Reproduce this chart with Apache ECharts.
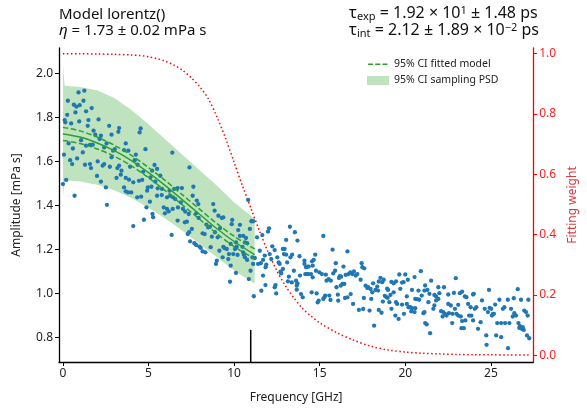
<!DOCTYPE html>
<html><head><meta charset="utf-8">
<script src="https://cdn.jsdelivr.net/npm/echarts@6/dist/echarts.min.js"></script>
<style>html,body{margin:0;padding:0;background:#fff}#c{width:587px;height:413px}</style>
</head><body><div id="c"></div>
<script>
const xTicks=[0,5,10,15,20,25];
const yTicks=[0.8,1.0,1.2,1.4,1.6,1.8,2.0];
const wTicks=[0,0.2,0.4,0.6,0.8,1.0];

const psdPoints=[
[1.25,1.923],[0.91,1.915],[0.29,1.877],[0.64,1.859],[0.79,1.850],[0.98,1.857],[1.20,1.877],[0.73,1.824],[0.25,1.813],[0.10,1.789],
[0.14,1.779],[0.48,1.774],[0.95,1.783],[1.35,1.829],[1.68,1.844],[1.49,1.789],[2.08,1.792],[1.45,1.763],[2.70,1.763],[3.28,1.753],
[3.24,1.736],[4.54,1.751],[4.48,1.733],[1.79,1.741],[1.89,1.723],[2.22,1.718],[2.14,1.703],[2.84,1.723],[1.06,1.698],[0.33,1.683],
[0.58,1.660],[0.06,1.632],[1.16,1.642],[1.35,1.673],[1.58,1.676],[1.74,1.677],[2.55,1.683],[2.41,1.665],[3.03,1.657],[2.93,1.650],
[3.67,1.683],[3.57,1.653],[3.82,1.650],[4.26,1.632],[4.82,1.657],[0.42,1.607],[0.54,1.589],[0.83,1.615],[1.29,1.586],[1.58,1.589],
[1.64,1.571],[2.03,1.601],[2.32,1.582],[2.41,1.589],[2.74,1.577],[2.84,1.620],[3.18,1.571],[3.28,1.582],[3.42,1.559],[3.92,1.577],
[4.19,1.607],[4.36,1.586],[3.38,1.541],[3.13,1.526],[1.99,1.535],[2.22,1.509],[2.51,1.483],[0.19,1.517],[0.0,1.498],[0.68,1.445],
[2.57,1.404],[4.11,1.307],[3.67,1.526],[3.86,1.518],[4.11,1.506],[4.44,1.513],[4.69,1.554],[5.35,1.585],[5.50,1.567],[5.21,1.559],
[5.11,1.529],[5.40,1.509],[5.69,1.536],[4.96,1.483],[5.17,1.486],[4.63,1.517],[3.57,1.483],[3.67,1.465],[3.80,1.460],[3.99,1.460],
[4.34,1.438],[4.57,1.441],[4.92,1.468],[5.54,1.479],[5.79,1.476],[5.50,1.445],[5.08,1.418],[4.88,1.392],[5.23,1.362],[5.27,1.347],
[4.73,1.336],[5.77,1.448],[6.08,1.438],[6.23,1.468],[6.50,1.476],[6.70,1.480],[6.95,1.480],[6.27,1.445],[6.43,1.438],[6.56,1.430],
[5.89,1.392],[6.08,1.385],[5.96,1.365],[6.18,1.374],[6.41,1.385],[6.72,1.392],[6.89,1.415],[7.01,1.385],[7.14,1.373],[7.35,1.362],
[7.62,1.486],[7.58,1.445],[7.82,1.423],[7.91,1.407],[7.78,1.365],[7.93,1.344],[6.70,1.332],[7.12,1.324],[7.24,1.327],[7.53,1.294],
[7.37,1.279],[7.29,1.271],[6.35,1.267],[7.43,1.238],[7.68,1.229],[7.78,1.221],[7.97,1.214],[8.05,1.208],[8.16,1.192],[8.32,1.188],
[8.63,1.211],[8.16,1.274],[8.28,1.271],[8.38,1.314],[8.49,1.301],[8.59,1.304],[8.78,1.407],[8.86,1.377],[8.88,1.279],[8.70,1.259],
[8.94,1.135],[6.39,1.641],[7.39,1.574],
[10.82,1.426],[9.08,1.354],[9.28,1.344],[9.37,1.347],[9.89,1.335],[9.86,1.316],[10.34,1.313],[10.24,1.289],[9.18,1.298],[9.04,1.256],
[9.37,1.213],[9.43,1.207],[9.80,1.226],[10.11,1.233],[10.34,1.262],[10.53,1.263],[10.69,1.253],[10.63,1.233],[10.76,1.229],[10.49,1.213],
[10.15,1.213],[10.05,1.203],[9.57,1.203],[9.70,1.180],[9.14,1.195],[9.95,1.180],[10.20,1.176],[10.53,1.188],[10.57,1.177],[10.92,1.294],
[11.01,1.329],[11.11,1.329],[11.34,1.256],[11.50,1.195],[11.07,1.165],[11.21,1.162],[10.63,1.165],[10.76,1.153],[9.33,1.165],[9.66,1.157],
[11.11,1.135],[10.96,1.104],[9.80,1.127],[10.11,1.094],[10.86,1.066],[9.76,1.054],[8.99,1.150],[11.15,0.988],[11.40,1.135],[11.56,1.138],
[12.04,1.297],[11.98,1.282],[11.65,1.266],[12.23,1.215],[12.08,1.180],[12.37,1.198],[11.79,1.173],[11.69,1.153],[11.88,1.132],[11.84,1.120],
[12.17,1.157],[11.69,1.082],[11.83,1.039],[11.59,1.013],[12.42,1.039],[12.37,1.029],[12.46,1.001],[12.52,1.165],[12.60,1.142],[12.66,1.135],
[12.75,1.092],[12.71,1.100],[12.85,1.112],[12.91,1.180],[12.95,1.203],[13.04,1.177],[12.85,1.203],[13.26,1.304],[13.55,1.279],[13.70,1.241],
[13.04,1.244],[13.39,1.177],[13.29,1.165],[13.10,1.142],[13.20,1.077],[13.14,1.056],[13.37,1.051],[13.49,1.104],[13.62,1.059],[13.70,1.047],
[13.82,1.170],[13.66,1.036],[13.66,1.018],[13.85,1.082],[13.91,0.998],[14.01,0.983],[14.11,1.150],[14.11,1.135],[14.20,1.120],[14.30,1.123],
[14.16,1.089],[14.24,1.089],[14.34,1.089],[14.36,1.123],[14.55,1.147],[14.65,1.153],[14.59,1.127],[14.74,1.177],[14.78,1.104],[14.49,1.089],
[14.59,1.074],[14.53,1.006],[14.82,1.001],[14.88,0.960],[14.94,0.968],[14.98,1.097],[15.13,1.089],[15.21,1.262],[15.36,1.086],[15.40,1.059],
[15.52,1.066],[15.65,1.059],[15.56,0.991],[15.21,0.976],[15.27,0.983],[15.32,0.991],[15.75,1.200],[15.79,1.092],[15.90,1.104],[15.94,1.138],
[15.98,1.029],[16.06,0.995],[15.63,0.971],[16.13,1.071],[16.17,1.079],[16.25,1.077],[16.39,1.123],[16.33,1.044],[16.44,1.044],[16.23,1.036],
[16.08,0.968],[16.52,1.085],[16.62,1.192],[16.68,1.089],[16.79,1.097],[16.91,1.089],[17.00,1.101],[17.10,1.082],[17.20,1.089],[16.48,0.980],
[16.62,0.983],[16.81,0.998],[16.95,0.953],[17.29,0.926],[17.39,1.063],[17.45,1.138],[17.49,1.120],[17.60,1.115],[17.54,0.930],[17.68,1.036],
[17.78,1.026],[17.83,1.029],[17.97,1.021],[18.07,1.006],[17.91,0.923],[18.01,0.976],[18.12,1.047],[18.18,0.854],[17.58,0.980],
[18.55,1.072],[18.74,1.063],[18.65,1.052],[18.45,1.055],[18.36,1.032],[18.26,1.017],[18.41,1.014],[18.94,1.023],[18.99,1.017],[19.19,1.053],
[19.32,1.047],[19.46,1.056],[19.65,1.087],[20.00,1.087],[19.81,1.050],[19.90,1.052],[20.15,1.063],[20.54,1.075],[20.91,1.102],[21.51,1.059],
[22.95,1.070],[19.71,1.022],[20.39,1.017],[20.77,1.014],[21.12,1.014],[21.29,1.017],[21.16,1.037],[21.93,1.029],[22.26,1.029],[18.80,0.990],
[18.90,0.984],[18.97,0.981],[19.13,0.994],[19.32,1.006],[19.46,0.961],[18.69,0.964],[19.07,0.961],[20.09,0.987],[20.58,0.976],[20.68,0.975],
[20.81,0.972],[20.96,0.991],[21.41,0.999],[21.70,0.994],[21.80,0.987],[21.99,1.002],[22.51,0.996],[22.84,1.003],[23.19,1.002],[23.32,1.009],
[23.48,0.987],[23.57,0.984],[24.00,0.999],[23.96,0.996],[24.89,1.017],[18.45,0.926],[18.61,0.913],[19.19,0.931],[19.52,0.953],[19.81,0.950],
[20.09,0.953],[19.42,0.900],[19.61,0.885],[19.92,0.908],[20.19,0.938],[20.29,0.938],[20.39,0.934],[20.58,0.934],[20.54,0.916],[20.35,0.919],
[21.06,0.911],[21.12,0.916],[21.16,0.866],[21.25,0.860],[21.45,0.820],[21.35,0.961],[21.64,0.931],[21.70,0.946],[21.80,0.969],[21.93,0.976],
[22.09,0.920],[22.22,0.916],[22.32,0.908],[22.41,0.900],[22.18,0.896],[22.55,0.911],[22.51,0.953],[22.66,0.946],[22.74,0.866],[22.76,0.908],
[22.90,0.931],[22.99,0.908],[23.09,0.900],[23.09,0.949],[23.24,0.896],[23.32,0.875],[23.28,0.843],[23.42,0.843],[23.51,0.878],[23.73,0.900],
[23.67,0.953],[23.82,0.938],[24.06,0.931],[24.15,0.938],[23.86,0.900],[23.96,0.878],[24.25,0.840],[24.40,0.870],[24.48,0.969],[24.64,0.931],
[24.73,0.810],[24.83,0.916],[24.93,0.935],[25.02,0.931],[25.06,0.900],[25.12,0.908],[25.18,0.908],[25.25,0.950],[25.31,0.810],[25.37,0.866],
[25.50,0.972],[25.60,0.866],[25.60,0.802],[25.70,0.931],[25.79,0.938],[25.83,0.866],[25.99,0.972],[26.08,0.866],[26.18,0.931],[26.28,0.896],
[26.37,0.911],[26.34,0.979],[26.47,0.900],[26.57,1.020],[26.61,0.866],[26.66,0.844],[26.76,0.972],[26.70,0.852],[26.80,0.840],[26.86,0.847],
[26.92,0.835],[26.95,0.923],[27.05,0.916],[27.15,0.900],[27.19,0.972],[27.11,0.810],[27.24,0.797],[24.75,0.767],[26.00,0.752]
];

const bandFreq =[0,   0.1,  1,    2,    3,    4,    5,    6,    7,    8,    9,    10,   11.2];
const bandUpper=[2.04,1.945,1.940,1.925,1.890,1.835,1.770,1.700,1.630,1.560,1.490,1.415,1.341];
const bandLower=[1.44,1.515,1.510,1.495,1.470,1.435,1.390,1.340,1.285,1.225,1.165,1.105,1.045];

const modelFreq =[0,    1,    2,    3,    4,    5,    6,    7,    8,    9,    10,   11.2];
const modelMid  =[1.726,1.712,1.685,1.650,1.605,1.550,1.490,1.425,1.360,1.295,1.237,1.177];
const modelHigh =[1.756,1.740,1.712,1.675,1.629,1.573,1.513,1.448,1.383,1.318,1.261,1.203];
const modelLow  =[1.696,1.683,1.658,1.625,1.581,1.527,1.467,1.402,1.337,1.272,1.214,1.158];

const weightFreq=[0,1,2,3,4,4.5,5,5.5,6,6.5,7,7.5,8,8.5,9,9.5,10,10.5,11,11.5,12,12.5,13,13.5,14,14.5,15,16,17,18,19,20,21,22,23,24,25,26,27.2];
const weightVal =[1.0,1.0,0.999,0.998,0.996,0.994,0.99,0.984,0.975,0.962,0.945,0.92,0.89,0.85,0.79,0.72,0.64,0.56,0.485,0.41,0.34,0.28,0.23,0.19,0.155,0.13,0.108,0.075,0.05,0.03,0.018,0.011,0.007,0.005,0.003,0.002,0.002,0.001,0.001];

const cutoffFreq=10.97, cutoffTop=0.835;
const xMin=-0.23, xMax=27.47, yMin=0.689, yMax=2.117, wMin=-0.022, wMax=1.019;

const FONT='"Noto Sans", sans-serif';
const zip=(a,b)=>a.map((v,i)=>[v,b[i]]);
const chart=echarts.init(document.getElementById('c'),null,{renderer:'canvas'});
const green='#2ca02c';
const bandColor='rgba(44,160,44,0.3)';
const dashIcon='path://M0,0h0.01v0.01h-0.01Z M22,10h0.01v0.01h-0.01Z M0,4h5.5v1.6h-5.5Z M8,4h5.5v1.6h-5.5Z M16,4h5.5v1.6h-5.5Z';

chart.setOption({
  animation:false,
  grid:{left:59,right:48,top:48,bottom:51,containLabel:false},
  xAxis:{type:'value',min:xMin,max:xMax,
    name:'Frequency [GHz]',nameLocation:'middle',nameGap:30,
    nameTextStyle:{fontFamily:FONT,fontSize:12,color:'#222'},
    axisLine:{onZero:false,lineStyle:{color:'#000',width:1.3}},
    axisTick:{length:4,lineStyle:{color:'#000',width:1},customValues:xTicks},
    axisLabel:{fontFamily:FONT,fontSize:12,color:'#222',margin:6,customValues:xTicks,formatter:v=>String(v)},
    splitLine:{show:false}},
  yAxis:[
    {type:'value',min:yMin,max:yMax,position:'left',
     name:'Amplitude [mPa s]',nameLocation:'middle',nameGap:36,
     nameTextStyle:{fontFamily:FONT,fontSize:12,color:'#222'},
     axisLine:{show:true,onZero:false,lineStyle:{color:'#000',width:1.3}},
     axisTick:{show:true,length:4,lineStyle:{color:'#000',width:1},customValues:yTicks},
     axisLabel:{fontFamily:FONT,fontSize:12,color:'#222',margin:6,customValues:yTicks,formatter:v=>v.toFixed(1)},
     splitLine:{show:false}},
    {type:'value',min:wMin,max:wMax,position:'right',
     name:'Fitting weight',nameLocation:'middle',nameGap:27,
     nameTextStyle:{fontFamily:FONT,fontSize:12,color:'#e0383c'},
     axisLine:{show:true,onZero:false,lineStyle:{color:'#ff0000',width:1.3}},
     axisTick:{show:true,length:4,lineStyle:{color:'#ff0000',width:1},customValues:wTicks},
     axisLabel:{fontFamily:FONT,fontSize:12,color:'#ff2020',margin:6,customValues:wTicks,formatter:v=>v.toFixed(1)},
     splitLine:{show:false}}
  ],
  legend:{left:362,top:54,orient:'vertical',itemGap:5,itemWidth:22,itemHeight:9,
    textStyle:{fontFamily:FONT,fontSize:10.5,color:'#222'},
    data:[{name:'95% CI fitted model',icon:dashIcon},{name:'95% CI sampling PSD',icon:'rect'}]},
  graphic:[
    {type:'text',left:59,top:6,silent:true,
     style:{text:'Model lorentz()\n{i|η} = 1.73 ± 0.02 mPa s',fontFamily:FONT,fontSize:15,lineHeight:16.5,fill:'#111',
       rich:{i:{fontFamily:FONT,fontSize:15,fontStyle:'italic',lineHeight:16.5,fill:'#111'}}}},
    {type:'text',right:48,top:5,silent:true,
     style:{text:'{t|τ}{s|exp}{t| = 1.92 × 10}{p|1}{t| ± 1.48 ps}\n{t|τ}{s|int}{t| = 2.12 ± 1.89 × 10}{p|−2}{t| ps}',
       align:'right',fill:'#111',fontFamily:FONT,fontSize:16,
       rich:{t:{fontFamily:FONT,fontSize:16,lineHeight:17,fill:'#111'},
             s:{fontFamily:FONT,fontSize:11,lineHeight:10,verticalAlign:'bottom',fill:'#111'},
             p:{fontFamily:FONT,fontSize:11,lineHeight:10,verticalAlign:'top',fill:'#111'}}}}
  ],
  series:[
    {type:'custom',name:'95% CI sampling PSD',silent:true,z:1,
     itemStyle:{color:bandColor},
     encode:{x:0,y:[1,2]},
     data:bandFreq.map((f,i)=>[f,bandUpper[i],bandLower[i]]),
     renderItem:(params,api)=>{
       if(params.dataIndex!==0) return null;
       const pts=[];
       for(let i=0;i<bandFreq.length;i++) pts.push(api.coord([bandFreq[i],bandUpper[i]]));
       for(let i=bandFreq.length-1;i>=0;i--) pts.push(api.coord([bandFreq[i],bandLower[i]]));
       return {type:'polygon',shape:{points:pts,smooth:0},style:{fill:bandColor}};
     }},
    {type:'scatter',name:'PSD',data:psdPoints,symbolSize:4.3,itemStyle:{color:'#1f77b4',opacity:1},z:3},
    {type:'line',name:'model',data:zip(modelFreq,modelMid),symbol:'none',smooth:0.3,lineStyle:{color:green,width:1.5},z:4},
    {type:'line',name:'95% CI fitted model',data:zip(modelFreq,modelHigh),symbol:'none',smooth:0.3,itemStyle:{color:green},
     lineStyle:{color:green,width:1.5,type:[5.5,2.5]},z:4},
    {type:'line',name:'95% CI fitted model',data:zip(modelFreq,modelLow),symbol:'none',smooth:0.3,itemStyle:{color:green},
     lineStyle:{color:green,width:1.5,type:[5.5,2.5]},z:4},
    {type:'line',name:'weight',yAxisIndex:1,data:zip(weightFreq,weightVal),symbol:'none',smooth:0.3,
     lineStyle:{color:'#ff0000',width:1.5,type:[1.5,2.5]},z:2},
    {type:'line',name:'cutoff',data:[[cutoffFreq,yMin],[cutoffFreq,cutoffTop]],symbol:'none',
     lineStyle:{color:'#000',width:1.5},z:2}
  ]
});
</script></body></html>
